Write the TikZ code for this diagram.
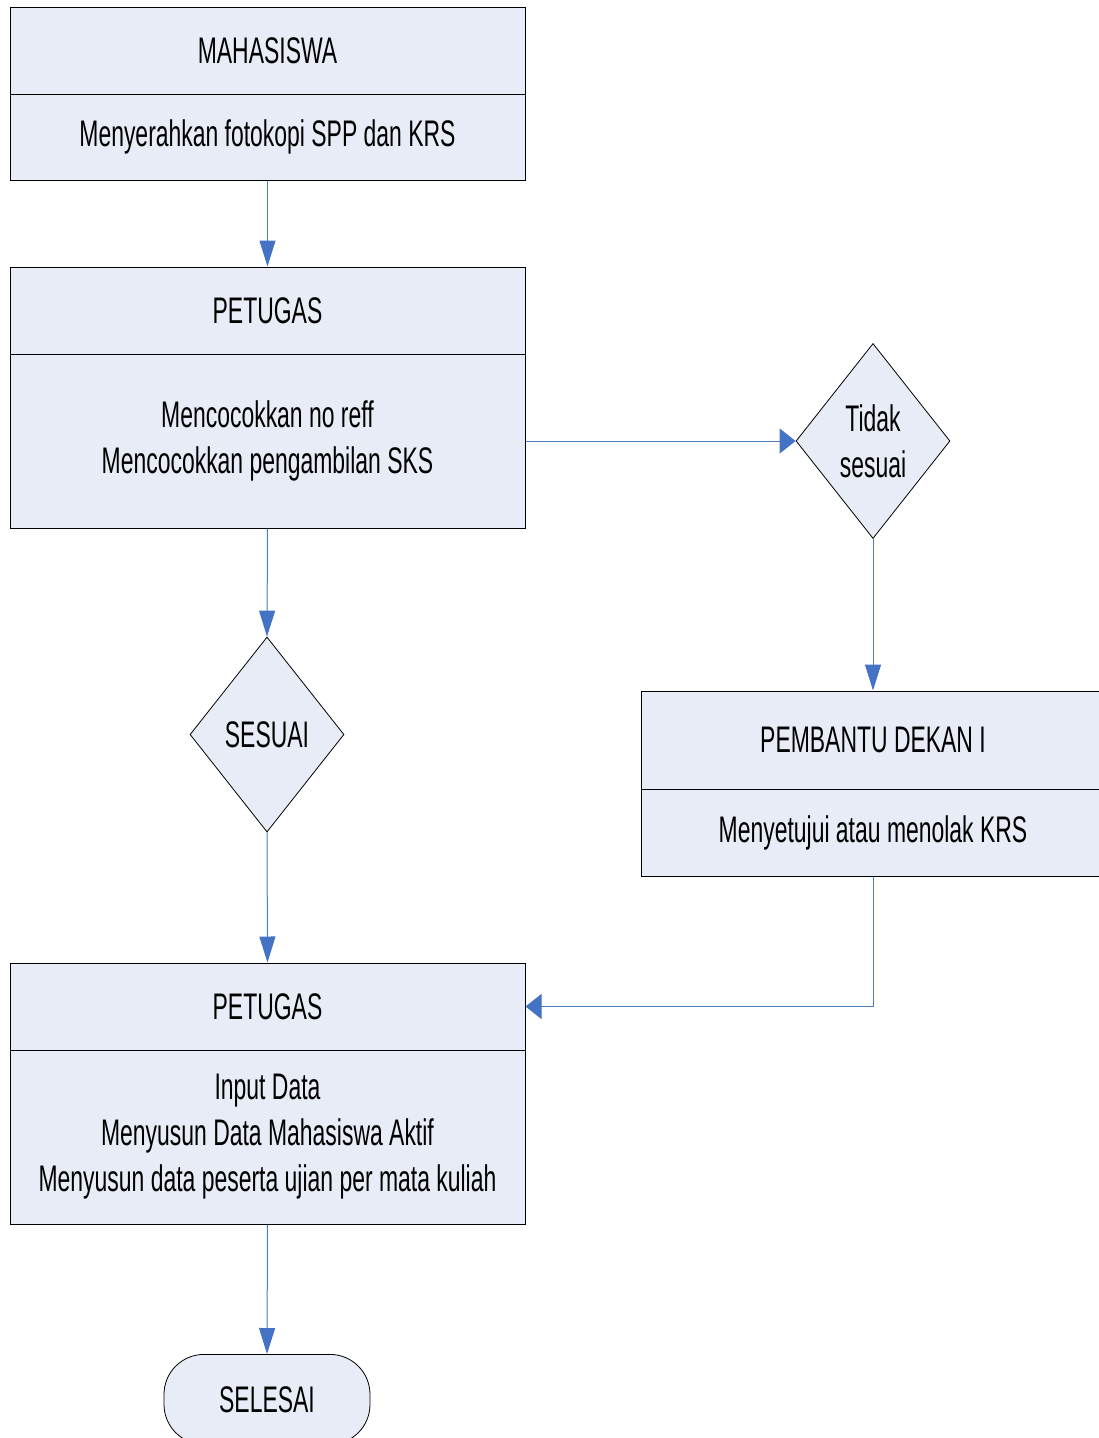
\documentclass[tikz,border=0pt]{standalone}
\usepackage{fontspec}
\setmainfont[FakeStretch=0.62]{Liberation Sans}
\usetikzlibrary{shapes.geometric,arrows.meta}
\definecolor{boxfill}{HTML}{E7ECF6}
\definecolor{flowblue}{HTML}{4A7EBB}
\definecolor{tipblue}{HTML}{4472C4}
\tikzset{
  part/.style={draw=black, line width=1pt, fill=boxfill, rectangle, inner sep=0pt, align=center, font=\fontsize{37}{46}\selectfont},
  decision/.style={draw=black, line width=0.8pt, fill=boxfill, diamond, inner sep=0pt, minimum width=154pt, minimum height=195pt, align=center, font=\fontsize{37}{46}\selectfont},
  terminal/.style={draw=black, line width=0.8pt, fill=boxfill, rectangle, rounded corners=40pt, inner sep=0pt, minimum width=206pt, minimum height=90pt, font=\fontsize{37}{46}\selectfont},
  flowv/.style={draw=flowblue, line width=1pt, -{Triangle[length=26pt,width=16pt,color=tipblue]}},
  flowh/.style={draw=flowblue, line width=1pt, -{Triangle[length=16pt,width=25pt,color=tipblue]}},
}
\begin{document}
\begin{tikzpicture}[x=1pt,y=-1pt]
\useasboundingbox (0,0) rectangle (1099,1438);
\clip (0,0) rectangle (1099,1438);
% Box 1
\node[part, minimum width=515pt, minimum height=87pt] (m1) at (267.5,50.5) {MAHASISWA};
\node[part, minimum width=515pt, minimum height=86pt] (m2) at (267.5,137) {Menyerahkan fotokopi SPP dan KRS};
% Box 2
\node[part, minimum width=515pt, minimum height=87pt] (p1) at (267.5,310.5) {PETUGAS};
\node[part, minimum width=515pt, minimum height=174pt] (p2) at (267.5,441) {Mencocokkan no reff\\Mencocokkan pengambilan SKS};
% Decision Tidak sesuai
\node[decision] (d1) at (873,441) {Tidak\\sesuai};
% Box 3
\node[part, minimum width=464pt, minimum height=98pt] (b1) at (873,740) {PEMBANTU DEKAN I};
\node[part, minimum width=464pt, minimum height=87pt] (b2) at (873,832.5) {Menyetujui atau menolak KRS};
% Decision SESUAI
\node[decision] (d2) at (267,734.5) {SESUAI};
% Box 4
\node[part, minimum width=515pt, minimum height=87pt] (q1) at (267.5,1006.5) {PETUGAS};
\node[part, minimum width=515pt, minimum height=174pt] (q2) at (267.5,1137) {Input Data\\Menyusun Data Mahasiswa Aktif\\Menyusun data peserta ujian per mata kuliah};
% Terminal
\node[terminal, anchor=north] (t) at (267,1354) {SELESAI};
% Connectors
\draw[flowv] (m2.south) -- (p1.north);
\draw[flowh] (p2.east) -- (d1.west);
\draw[flowv] (d1.south) -- (b1.north);
\draw[flowv] (p2.south) -- (d2.north);
\draw[flowv] (d2.south) -- (q1.north);
\draw[flowh] (b2.south) |- (q1.east);
\draw[flowv] (q2.south) -- (t.north);
\end{tikzpicture}
\end{document}
